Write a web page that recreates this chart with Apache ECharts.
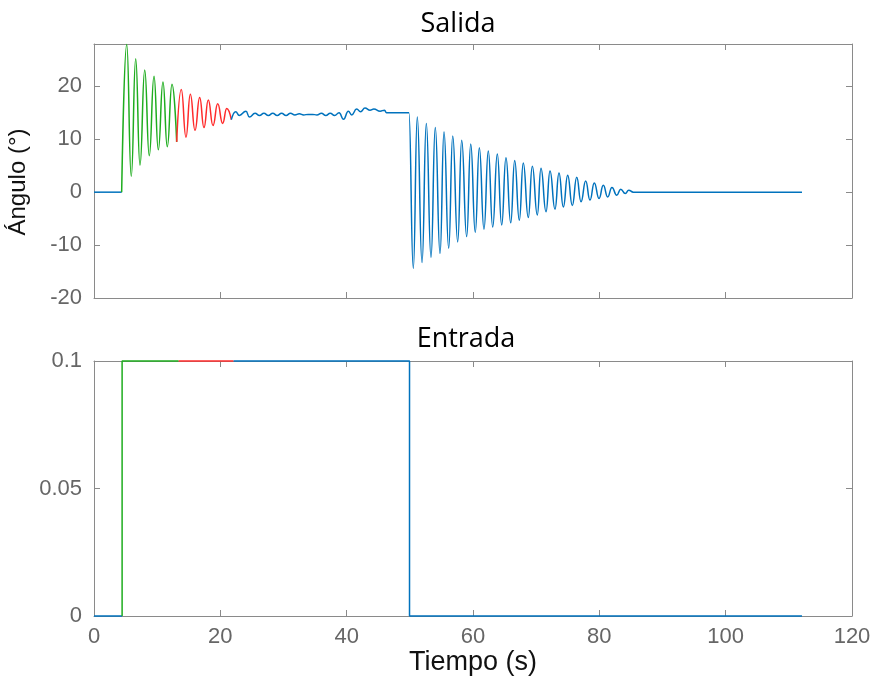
<!DOCTYPE html>
<html><head><meta charset="utf-8">
<script src="https://cdn.jsdelivr.net/npm/echarts@6/dist/echarts.min.js"></script>
<style>html,body{margin:0;padding:0;background:#fff}#c{width:874px;height:684px}</style>
</head><body><div id="c"></div>
<script>
// ---- Data (time in s) ----
const xTickValues = [0, 20, 40, 60, 80, 100, 120];
const salidaYTicks = [-20, -10, 0, 10, 20];
const entradaYTicks = [0, 0.05, 0.1];

// Salida (ángulo, °)
const salidaInicio = [[0, 0], [4.38, 0]];
const salidaVerde = [[4.38, 0], [5.18, 27.9], [5.90, 3.0], [6.60, 25.2], [7.28, 5.1], [8.03, 23.1],
  [8.75, 6.9], [9.50, 21.9], [10.18, 8.0], [10.92, 20.8], [11.60, 8.6], [12.35, 20.4], [13.09, 9.5]];
const salidaRoja = [[13.09, 9.5], [13.82, 19.4], [14.56, 10.4], [15.25, 18.5], [15.99, 11.7], [16.73, 17.9],
  [17.41, 12.2], [18.09, 17.4], [18.84, 12.6], [19.58, 16.7], [20.37, 13.0], [21.01, 15.8], [21.74, 13.7]];
const salidaAzul = [[21.74, 13.7], [22.43, 15.2], [23.00, 14.5], [24.06, 15.3], [24.59, 14.2], [25.49, 14.9],
  [26.2, 14.5], [26.9, 14.9], [27.6, 14.5], [28.3, 14.9], [29.0, 14.5], [29.7, 14.9], [30.4, 14.5],
  [31.1, 14.9], [31.8, 14.6], [32.5, 14.8], [33.2, 14.6], [33.9, 14.7], [34.6, 14.7], [35.3, 14.6],
  [36.0, 14.9], [36.7, 14.5], [37.4, 14.9], [38.1, 14.5], [38.8, 15.0], [39.5, 13.8], [40.26, 15.3],
  [40.8, 14.6], [41.58, 15.7], [42.2, 15.2], [42.9, 15.9], [43.7, 15.5], [44.3, 15.7], [45.3, 15.3],
  [46.0, 15.5], [46.3, 15.0], [49.85, 15.0],
  [50.55, -14.4], [51.18, 14.2], [51.93, -13.3], [52.61, 13.0], [53.35, -12.3], [54.03, 12.2],
  [54.78, -11.6], [55.41, 11.4], [56.15, -10.6], [56.79, 10.6], [57.58, -9.4], [58.21, 9.8],
  [59.00, -8.4], [59.64, 9.1], [60.36, -7.6], [61.00, 8.4], [61.74, -7.0], [62.42, 7.8],
  [63.12, -6.6], [63.85, 7.2], [64.54, -6.2], [65.22, 6.5], [65.97, -5.8], [66.60, 6.0],
  [67.33, -5.3], [67.96, 5.5], [68.75, -4.8], [69.39, 4.9], [70.18, -4.3], [70.76, 4.5],
  [71.56, -3.7], [72.19, 4.0], [72.98, -3.2], [73.61, 3.6], [74.30, -2.8], [74.99, 3.2],
  [75.72, -2.5], [76.42, 2.8], [77.10, -1.8], [77.84, 2.1], [78.52, -1.5], [79.20, 1.75],
  [79.95, -1.2], [80.63, 1.3], [81.32, -0.9], [82.00, 0.9], [82.75, -0.57], [83.38, 0.57],
  [84.11, -0.25], [84.65, 0.38], [85.38, 0], [112.08, 0]];

// Entrada
const entradaInicio = [[0, 0], [4.45, 0]];
const entradaVerde = [[4.45, 0], [4.45, 0.1], [13.4, 0.1]];
const entradaRoja = [[13.4, 0.1], [22.1, 0.1]];
const entradaAzul = [[22.1, 0.1], [49.95, 0.1], [49.95, 0], [112.08, 0]];

// ---- Styles ----
const AX = '#8a8a8a';
const LBL = '#666666';
const BLUE = '#0072BD', RED = '#FF2B2B', GREEN = '#1FAD1F';
const tickFont = { fontFamily: 'Liberation Sans', fontSize: 22, color: LBL };

function xAx(grid, pos, showLabel, extra) {
  return Object.assign({
    type: 'value', gridIndex: grid, position: pos, min: 0, max: 120, interval: 20,
    axisLine: { show: true, onZero: false, lineStyle: { color: AX, width: 1 } },
    axisTick: { show: true, inside: true, length: 6, lineStyle: { color: AX } },
    axisLabel: Object.assign({ show: showLabel, margin: 10,
      formatter: v => (xTickValues.includes(v) ? String(v) : '') }, tickFont),
    splitLine: { show: false }
  }, extra || {});
}
function yAx(grid, pos, min, max, interval, ticks, showLabel, extra) {
  return Object.assign({
    type: 'value', gridIndex: grid, position: pos, min: min, max: max, interval: interval,
    axisLine: { show: true, onZero: false, lineStyle: { color: AX, width: 1 } },
    axisTick: { show: true, inside: true, length: 6, lineStyle: { color: AX } },
    axisLabel: Object.assign({ show: showLabel, margin: 12, showMaxLabel: ticks.includes(max),
      formatter: v => (ticks.some(t => Math.abs(t - v) < 1e-9) ? String(+v.toFixed(4)) : '') }, tickFont),
    splitLine: { show: false }
  }, extra || {});
}
function line(data, color, xi, yi, smooth) {
  return {
    type: 'line', data: data, xAxisIndex: xi, yAxisIndex: yi, showSymbol: false, symbol: 'none',
    smooth: smooth ? 0.5 : false, smoothMonotone: smooth ? 'x' : undefined,
    clip: false, lineStyle: { color: color, width: 1.5 }, itemStyle: { color: color },
    emphasis: { disabled: true }
  };
}

const chart = echarts.init(document.getElementById('c'), null, { renderer: 'canvas' });
chart.setOption({
  animation: false,
  backgroundColor: '#ffffff',
  title: [
    { text: 'Salida', left: 453, top: 6, textAlign: 'center',
      textStyle: { fontFamily: 'Open Sans', fontSize: 27, fontWeight: 'normal', color: '#000' } },
    { text: 'Entrada', left: 461, top: 321, textAlign: 'center',
      textStyle: { fontFamily: 'Open Sans', fontSize: 27, fontWeight: 'normal', color: '#000' } }
  ],
  grid: [
    { left: 94, top: 44, width: 758, height: 254, outerBoundsMode: 'none', containLabel: false },
    { left: 94, top: 361, width: 758, height: 255, outerBoundsMode: 'none', containLabel: false }
  ],
  xAxis: [
    xAx(0, 'bottom', false),
    xAx(0, 'top', false),
    xAx(1, 'bottom', true, { name: 'Tiempo (s)', nameLocation: 'middle', nameGap: 32,
      nameTextStyle: { fontFamily: 'Liberation Sans', fontSize: 27, color: '#111' } }),
    xAx(1, 'top', false)
  ],
  yAxis: [
    yAx(0, 'left', -20, 28, 10, salidaYTicks, true, { name: 'Ángulo (°)', nameLocation: 'middle',
      nameGap: 64, nameRotate: 90,
      nameTextStyle: { fontFamily: 'Liberation Sans', fontSize: 24, color: '#111', padding: [0, 22, 0, 0] } }),
    yAx(0, 'right', -20, 28, 10, salidaYTicks, false),
    yAx(1, 'left', 0, 0.1, 0.05, entradaYTicks, true),
    yAx(1, 'right', 0, 0.1, 0.05, entradaYTicks, false)
  ],
  series: [
    line(salidaInicio, BLUE, 0, 0, false),
    line(salidaVerde, GREEN, 0, 0, true),
    line(salidaRoja, RED, 0, 0, true),
    line(salidaAzul, BLUE, 0, 0, true),
    line(entradaInicio, BLUE, 2, 2, false),
    line(entradaVerde, GREEN, 2, 2, false),
    line(entradaRoja, RED, 2, 2, false),
    line(entradaAzul, BLUE, 2, 2, false)
  ]
});
</script>
</body></html>
